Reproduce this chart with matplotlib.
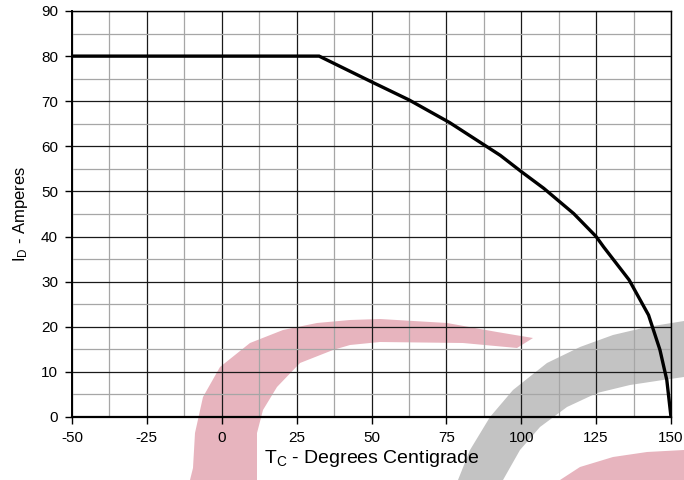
import numpy as np
import matplotlib
matplotlib.use("Agg")
import matplotlib.pyplot as plt
from matplotlib.patches import Polygon

plt.rcParams['font.family'] = ['Liberation Sans', 'DejaVu Sans']
plt.rcParams['mathtext.fontset'] = 'custom'
plt.rcParams['mathtext.rm'] = 'Liberation Sans'
plt.rcParams['axes.unicode_minus'] = False

# derating curve
temp_c = [-50, 32.5, 50, 62.5, 76, 93, 100, 107.5, 117.5, 125, 127.5, 136, 142.5, 146.3, 148.6, 150]
drain_a = [80, 80, 74.3, 70.3, 65.3, 58, 54.4, 50.7, 45.1, 40, 37.7, 30.4, 22.6, 14.9, 8.2, 0]

x_ticks = [-50, -25, 0, 25, 50, 75, 100, 125, 150]
y_ticks = [0, 10, 20, 30, 40, 50, 60, 70, 80, 90]

# background watermark outlines, in pixels of the 684x480 picture
pink_arc = [(190, 480), (193, 468), (195, 433), (203, 397), (220, 367), (250, 343),
            (283, 330), (317, 323), (350, 320), (380, 319), (447, 323), (497, 332),
            (533, 338), (517, 348), (463, 343), (380, 342), (350, 345), (333, 350),
            (300, 363), (277, 387), (263, 410), (257, 433), (257, 480)]
pink_corner = [(560, 480), (580, 467), (613, 457), (647, 452), (684, 450), (684, 480)]
gray_arc = [(458, 480), (470, 450), (490, 417), (513, 390), (547, 363), (580, 347),
            (613, 335), (647, 327), (684, 321), (684, 377), (663, 380), (630, 385),
            (597, 393), (567, 407), (540, 427), (520, 450), (503, 480)]

W, H = 684, 480
fig = plt.figure(figsize=(W / 100, H / 100), dpi=100)


def to_fig(pts):
    return [(x / W, 1 - y / H) for x, y in pts]


for pts, col in [(pink_arc, '#e7b4be'), (pink_corner, '#e7b4be'), (gray_arc, '#c3c3c3')]:
    fig.patches.append(Polygon(to_fig(pts), closed=True, transform=fig.transFigure,
                               facecolor=col, edgecolor='none', zorder=-5))

ax = fig.add_axes([72 / W, 1 - 417 / H, (671 - 72) / W, (417 - 11) / H], zorder=1)
ax.patch.set_alpha(0)

ax.set_xlim(-50, 150)
ax.set_ylim(0, 90)
ax.set_xticks(x_ticks)
ax.set_yticks(y_ticks)
ax.set_xticks(np.arange(-37.5, 150, 25), minor=True)
ax.set_yticks(np.arange(5, 90, 10), minor=True)
ax.grid(which='major', color='#1a1a1a', lw=0.9)
ax.grid(which='minor', color='#a6a6a6', lw=0.9)
ax.set_axisbelow(True)

ax.tick_params(which='major', direction='out', length=5, width=1, color='black',
               labelsize=11, pad=5)
ax.tick_params(which='minor', length=0)

for s in ax.spines.values():
    s.set_color('black')
    s.set_linewidth(1.0)
ax.spines['bottom'].set_linewidth(1.6)
ax.spines['left'].set_linewidth(1.4)

ax.plot(temp_c, drain_a, color='black', lw=2.4, solid_joinstyle='miter', zorder=5)

ax.set_xlabel(r'$\mathregular{T_C}$ - Degrees Centigrade', fontsize=14, labelpad=2)
ax.set_ylabel(r'$\mathregular{I_D}$ - Amperes', fontsize=12, labelpad=8)

fig.savefig('out.png', dpi=100)
